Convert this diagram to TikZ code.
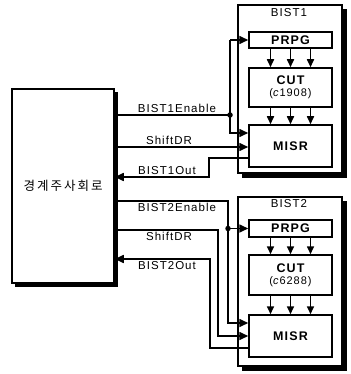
\documentclass[tikz,border=0pt]{standalone}
\usepackage{fontspec}
\setmainfont{Liberation Sans}[LetterSpace=9]
\newfontfamily\kfont{Noto Sans CJK KR}[LetterSpace=16]
\usetikzlibrary{arrows.meta, backgrounds}

\begin{document}
\begin{tikzpicture}[
    x=1pt, y=-1pt,
    font=\fontsize{11.5}{13}\selectfont,
    scanbox/.style={rectangle, draw, line width=1.5pt, fill=white},
    bistbox/.style={rectangle, draw, line width=1.1pt, fill=white, minimum width=104pt, minimum height=168pt},
    block/.style={rectangle, draw, line width=1.5pt, fill=white, minimum width=83pt, align=center, inner sep=1pt, font=\fontsize{12.5}{13}\selectfont\bfseries},
    shade/.style={fill=black},
    wire/.style={line width=1.6pt},
    arrow/.style={wire, -{Triangle[length=9pt, width=8pt]}},
    tap/.style={wire, -{Triangle[length=8pt, width=7pt]}},
    dot/.style={circle, fill, inner sep=0pt, minimum size=5.5pt},
    lbl/.style={inner sep=2pt}
]
\useasboundingbox (0,0) rectangle (350,374);

% Boundary scan circuit
\node[scanbox, minimum width=102pt, minimum height=194pt] (bsc) at (63,186) {\kfont\fontsize{12.5}{14}\selectfont 경계주사회로};

% BIST 1
\node[bistbox] (bist1) at (290,89) {};
\node (bist1lbl) at (289,13) {BIST1};
\node[block, minimum height=16pt] (prpg1) at (290.5,40) {PRPG};
\node[block, minimum height=39pt] (cut1) at (290.5,87.5) {CUT\\[-1pt]{\mdseries\fontsize{11}{12}\selectfont(\textit{c}1908)}};
\node[block, minimum height=42pt] (misr1) at (290.5,146) {MISR};

% BIST 2
\node[bistbox, minimum height=169pt] (bist2) at (290,281.5) {};
\node (bist2lbl) at (289,204) {BIST2};
\node[block, minimum height=17pt] (prpg2) at (290.5,228.5) {PRPG};
\node[block, minimum height=40pt] (cut2) at (290.5,275) {CUT\\[-1pt]{\mdseries\fontsize{11}{12}\selectfont(\textit{c}6288)}};
\node[block, minimum height=42pt] (misr2) at (290.5,336) {MISR};

% shadows
\begin{scope}[on background layer]
\foreach \b/\s in {bsc/3.5, bist1/4.5, bist2/4.5}
    \fill[shade] ([xshift=\s pt, yshift=-\s pt]\b.south west) rectangle ([xshift=\s pt, yshift=-\s pt]\b.north east);
\end{scope}

% Inside the BIST blocks
\foreach \dx in {-20,0,20} {
    \draw[tap] ([xshift=\dx pt]prpg1.south) -- ([xshift=\dx pt]cut1.north);
    \draw[tap] ([xshift=\dx pt]cut1.south) -- ([xshift=\dx pt]misr1.north);
    \draw[tap] ([xshift=\dx pt]prpg2.south) -- ([xshift=\dx pt]cut2.north);
    \draw[tap] ([xshift=\dx pt]cut2.south) -- ([xshift=\dx pt]misr2.north);
}

% Wires to BIST 1
\coordinate (e1) at (230,115);
\coordinate (m1a) at (230,133);
\coordinate (s1) at (180,147);
\coordinate (o1a) at (209,158);
\coordinate (o1b) at (209,177);
\draw[wire] (bsc.east |- e1) -- (e1);
\draw[arrow] (e1 |- prpg1.west) -- (prpg1.west);
\draw[arrow] (e1 |- prpg1.west) -- (m1a) -- (misr1.west |- m1a);
\draw[arrow] (bsc.east |- s1) -- (misr1.west |- s1);
\draw[arrow] (misr1.west |- o1a) -- (o1a) -- (o1b) -- (bsc.east |- o1b);
\node[dot] (d1) at (e1) {};

% Wires to BIST 2
\coordinate (e2) at (228,201);
\coordinate (m2a) at (228,323);
\coordinate (s2) at (218,230);
\coordinate (m2b) at (218,336);
\coordinate (o2a) at (210,348);
\coordinate (o2b) at (210,259);
\draw[arrow] (bsc.east |- e2) -- (e2) -- (m2a) -- (misr2.west |- m2a);
\draw[arrow] (e2 |- prpg2.west) -- (prpg2.west);
\draw[arrow] (bsc.east |- s2) -- (s2) -- (m2b) -- (misr2.west |- m2b);
\draw[arrow] (misr2.west |- o2a) -- (o2a) -- (o2b) -- (bsc.east |- o2b);
\node[dot] (d2) at (e2 |- prpg2.west) {};

% Signal names
\node[lbl, above] (en1) at (177,115) {BIST1Enable};
\node[lbl, above] (sh1) at (169,147) {ShiftDR};
\node[lbl, above] (out1) at (167,177) {BIST1Out};
\node[lbl, below] (en2) at (177,201) {BIST2Enable};
\node[lbl, below] (sh2) at (169,230) {ShiftDR};
\node[lbl, below] (out2) at (167,259) {BIST2Out};

\end{tikzpicture}
\end{document}
